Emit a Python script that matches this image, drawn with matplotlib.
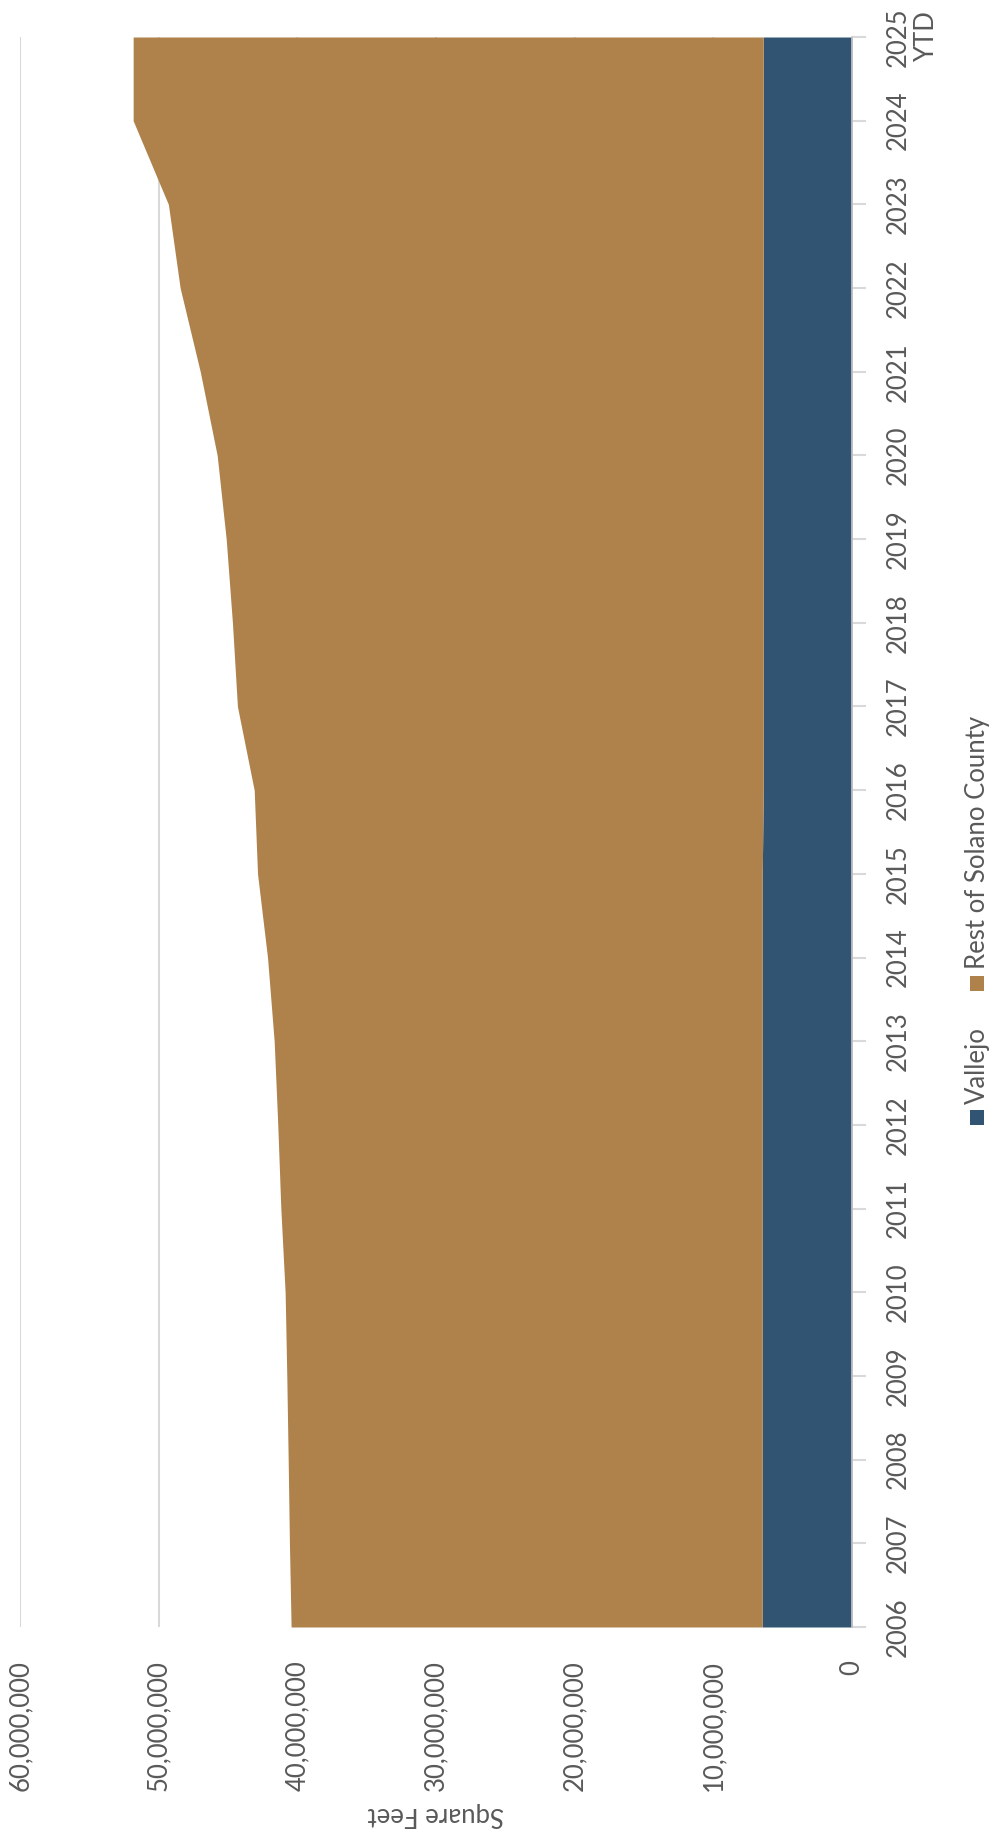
import matplotlib
matplotlib.use("Agg")
import matplotlib.pyplot as plt
from matplotlib.patches import Rectangle
from matplotlib.ticker import FuncFormatter, MultipleLocator

plt.rcParams['font.family'] = ['Lato', 'DejaVu Sans']

# Industrial inventory (square feet), stacked by area
years = [2006, 2007, 2008, 2009, 2010, 2011, 2012, 2013, 2014, 2015,
         2016, 2017, 2018, 2019, 2020, 2021, 2022, 2023, 2024, 2025]
year_labels = [str(y) for y in years[:-1]] + ["2025\nYTD"]

vallejo = [6.47e6, 6.47e6, 6.47e6, 6.47e6, 6.47e6, 6.47e6, 6.47e6, 6.47e6, 6.47e6, 6.47e6,
           6.40e6, 6.40e6, 6.40e6, 6.40e6, 6.40e6, 6.40e6, 6.40e6, 6.40e6, 6.40e6, 6.40e6]
rest_of_solano = [33.98e6, 34.10e6, 34.19e6, 34.29e6, 34.41e6, 34.72e6, 34.94e6, 35.20e6,
                  35.68e6, 36.40e6, 36.71e6, 37.92e6, 38.28e6, 38.73e6, 39.38e6, 40.60e6,
                  42.05e6, 42.90e6, 45.44e6, 45.44e6]
series_names = ["Vallejo", "Rest of Solano County"]
series_colors = ["#325473", "#AF824B"]

W, H = 991, 1837
fig = plt.figure(figsize=(W / 100, H / 100), dpi=100)
fig.patch.set_facecolor("white")

# plot box in pixel units (from top-left)
px_left, px_right, px_top, px_bottom = 20, 852, 37, 1627
ax = fig.add_axes([px_left / W, 1 - px_bottom / H,
                   (px_right - px_left) / W, (px_bottom - px_top) / H])

total = [v + r for v, r in zip(vallejo, rest_of_solano)]
ax.fill_betweenx(years, 0, vallejo, color=series_colors[0], lw=0, zorder=2)
ax.fill_betweenx(years, vallejo, total, color=series_colors[1], lw=0, zorder=2)

ax.set_xlim(60e6, 0)
ax.set_ylim(years[0], years[-1])

label_color = "#595959"

# value axis (bottom, rotated labels)
ax.xaxis.set_major_locator(MultipleLocator(10e6))
ax.xaxis.set_major_formatter(FuncFormatter(lambda v, p: f"{int(round(v)):,}"))
ax.tick_params(axis="x", length=0, pad=24, labelsize=18.5, labelcolor=label_color)
for lab in ax.get_xticklabels():
    lab.set_rotation(90)
    lab.set_ha("center")
    lab.set_va("top")

# year axis (right side, rotated labels)
ax.yaxis.tick_right()
ax.set_yticks(years)
ax.set_yticklabels(year_labels)
ax.tick_params(axis="y", length=10, width=1.5, color="#D9D9D9", pad=14,
               labelsize=18.5, labelcolor=label_color)
for lab in ax.get_yticklabels():
    lab.set_rotation(90)
    lab.set_va("center")
    lab.set_ha("left")
    lab.set_multialignment("center")

ax.grid(axis="x", color="#D9D9D9", lw=1.5, zorder=0)
ax.set_axisbelow(True)
for side in ["top", "left", "bottom"]:
    ax.spines[side].set_visible(False)
ax.spines["right"].set_color("#C8C8C8")
ax.spines["right"].set_linewidth(1.2)
ax.spines["right"].set_zorder(3)

# axis title, upside down below the value labels
fig.text(436 / W, 1 - 1814 / H, "Square Feet", rotation=180, ha="center", va="center",
         fontsize=18.5, color=label_color)

# legend, rotated to read bottom-to-top
leg_items = [(series_names[0], series_colors[0], 1125, 1104),
             (series_names[1], series_colors[1], 991, 969)]
for name, col, sq_bottom, txt_bottom in leg_items:
    fig.patches.append(Rectangle((970 / W, 1 - sq_bottom / H), 14 / W, 15 / H,
                                 transform=fig.transFigure, facecolor=col, lw=0))
    fig.text(977 / W, 1 - txt_bottom / H, name, rotation=90, ha="center", va="bottom",
             fontsize=18.5, color=label_color)

fig.savefig("out.png", dpi=100, facecolor="white")
